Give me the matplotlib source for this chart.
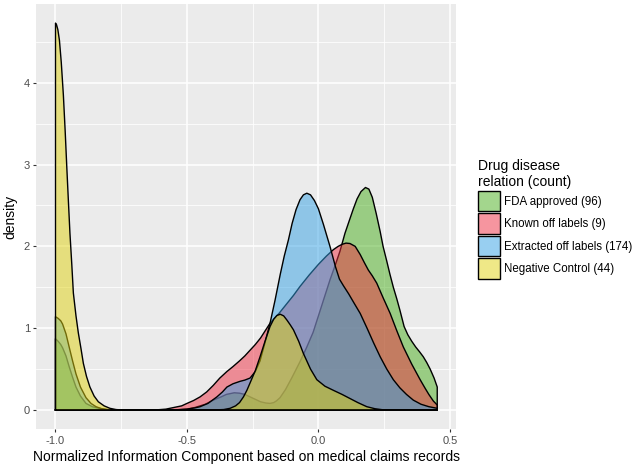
import matplotlib
matplotlib.use("Agg")
import matplotlib.pyplot as plt
from matplotlib.colors import to_rgba
from matplotlib.patches import Patch

plt.rcParams['font.family'] = ['Liberation Sans', 'DejaVu Sans']

# density curves (x, density)
fda_x = [-1.0, -0.99, -0.98, -0.973, -0.96, -0.948, -0.935, -0.922, -0.905, -0.884, -0.86, -0.834,
         -0.80, -0.78, -0.55, -0.50, -0.47, -0.43, -0.40, -0.37, -0.35, -0.32, -0.30, -0.28,
         -0.26, -0.24, -0.22, -0.20, -0.184, -0.17, -0.16, -0.146, -0.125, -0.10, -0.07, -0.044,
         -0.02, 0.0, 0.022, 0.044, 0.065, 0.082, 0.101, 0.118, 0.133, 0.147, 0.162, 0.179,
         0.192, 0.205, 0.22, 0.235, 0.246, 0.26, 0.272, 0.285, 0.298, 0.31, 0.326, 0.34,
         0.355, 0.37, 0.385, 0.399, 0.412, 0.425, 0.44, 0.452]
fda_y = [0.87, 0.84, 0.80, 0.76, 0.66, 0.53, 0.40, 0.28, 0.17, 0.08, 0.04, 0.02,
         0.005, 0.0, 0.0, 0.01, 0.03, 0.07, 0.12, 0.16, 0.19, 0.21, 0.205, 0.19,
         0.16, 0.13, 0.10, 0.085, 0.08, 0.09, 0.11, 0.15, 0.25, 0.40, 0.59, 0.77,
         0.95, 1.15, 1.37, 1.59, 1.78, 1.94, 2.16, 2.32, 2.46, 2.58, 2.67, 2.72,
         2.70, 2.60, 2.40, 2.18, 2.00, 1.82, 1.66, 1.50, 1.36, 1.22, 1.02, 0.92,
         0.84, 0.77, 0.71, 0.65, 0.58, 0.50, 0.39, 0.28]

known_x = [-1.0, -0.62, -0.58, -0.55, -0.52, -0.50, -0.475, -0.45, -0.425, -0.40, -0.375, -0.348,
           -0.325, -0.30, -0.28, -0.26, -0.24, -0.22, -0.20, -0.184, -0.15, -0.12, -0.095, -0.07,
           -0.035, 0.0, 0.03, 0.057, 0.075, 0.09, 0.105, 0.12, 0.14, 0.159, 0.175, 0.19,
           0.205, 0.222, 0.245, 0.273, 0.298, 0.323, 0.355, 0.387, 0.405, 0.42, 0.437, 0.452]
known_y = [0.0, 0.0, 0.01, 0.03, 0.05, 0.08, 0.115, 0.16, 0.22, 0.30, 0.39, 0.47,
           0.53, 0.60, 0.66, 0.73, 0.80, 0.88, 0.98, 1.06, 1.18, 1.30, 1.40, 1.51,
           1.65, 1.78, 1.88, 1.96, 2.00, 2.025, 2.04, 2.035, 2.00, 1.90, 1.80, 1.71,
           1.64, 1.55, 1.38, 1.18, 0.97, 0.77, 0.56, 0.37, 0.27, 0.19, 0.11, 0.06]

extr_x = [-1.0, -0.99, -0.98, -0.973, -0.96, -0.948, -0.935, -0.922, -0.905, -0.884, -0.865, -0.846,
          -0.82, -0.80, -0.55, -0.50, -0.47, -0.45, -0.42, -0.386, -0.365, -0.348, -0.325, -0.298,
          -0.28, -0.26, -0.24, -0.222, -0.205, -0.184, -0.165, -0.145, -0.13, -0.114, -0.10, -0.085,
          -0.07, -0.057, -0.044, -0.03, -0.015, 0.0, 0.019, 0.044, 0.065, 0.08, 0.095, 0.115,
          0.135, 0.159, 0.185, 0.21, 0.235, 0.26, 0.285, 0.31, 0.335, 0.361, 0.39, 0.42, 0.452]
extr_y = [1.14, 1.12, 1.09, 1.05, 0.93, 0.77, 0.60, 0.44, 0.28, 0.15, 0.08, 0.04,
          0.01, 0.0, 0.0, 0.01, 0.025, 0.04, 0.08, 0.16, 0.22, 0.28, 0.32, 0.35,
          0.365, 0.39, 0.47, 0.60, 0.80, 1.06, 1.34, 1.66, 1.88, 2.08, 2.28, 2.45,
          2.57, 2.63, 2.65, 2.63, 2.56, 2.46, 2.27, 2.00, 1.75, 1.60, 1.52, 1.42,
          1.31, 1.18, 1.00, 0.82, 0.65, 0.50, 0.37, 0.27, 0.19, 0.12, 0.07, 0.04, 0.02]

neg_x = [-1.0, -0.996, -0.991, -0.985, -0.978, -0.970, -0.963, -0.957, -0.951, -0.945, -0.938, -0.932,
         -0.922, -0.913, -0.903, -0.894, -0.882, -0.869, -0.853, -0.837, -0.815, -0.793, -0.77, -0.75,
         -0.40, -0.36, -0.336, -0.315, -0.30, -0.285, -0.272, -0.26, -0.24, -0.222, -0.203, -0.184,
         -0.17, -0.158, -0.145, -0.132, -0.12, -0.107, -0.095, -0.075, -0.057, -0.03, -0.006, 0.025,
         0.057, 0.09, 0.12, 0.15, 0.184, 0.215, 0.25, 0.452]
neg_y = [4.73, 4.71, 4.65, 4.52, 4.25, 3.85, 3.40, 2.97, 2.56, 2.16, 1.78, 1.43,
         1.15, 0.94, 0.75, 0.57, 0.41, 0.28, 0.17, 0.10, 0.05, 0.02, 0.005, 0.0,
         0.0, 0.005, 0.02, 0.05, 0.09, 0.16, 0.24, 0.33, 0.48, 0.65, 0.84, 1.02,
         1.11, 1.155, 1.17, 1.15, 1.10, 1.04, 0.98, 0.84, 0.69, 0.50, 0.37, 0.29,
         0.24, 0.19, 0.14, 0.09, 0.04, 0.015, 0.0, 0.0]

labels = ["FDA approved (96)", "Known off labels (9)", "Extracted off labels (174)", "Negative Control (44)"]
colors = ["#49AF1D", "#EE2D41", "#33A1E5", "#E1D311"]
curves = [(fda_x, fda_y), (known_x, known_y), (extr_x, extr_y), (neg_x, neg_y)]

fig = plt.figure(figsize=(6.33, 4.68), dpi=100)
ax = fig.add_axes([0.0575, 0.0827, 0.6634, 0.9092])
ax.set_facecolor("#EBEBEB")
for s in ax.spines.values():
    s.set_visible(False)

# grid
for v in [-0.75, -0.25, 0.25]:
    ax.axvline(v, color="white", lw=0.55, zorder=0)
for v in [-1.0, -0.5, 0.0, 0.5]:
    ax.axvline(v, color="white", lw=1.1, zorder=0)
for v in [0.5, 1.5, 2.5, 3.5, 4.5]:
    ax.axhline(v, color="white", lw=0.55, zorder=0)
for v in [0, 1, 2, 3, 4]:
    ax.axhline(v, color="white", lw=1.1, zorder=0)

for (xs, ys), c in zip(curves, colors):
    px = [xs[0]] + xs + [xs[-1], xs[0]]
    py = [0.0] + ys + [0.0, 0.0]
    ax.fill(px, py, facecolor=to_rgba(c, 0.5), edgecolor="none", zorder=2)
    ax.plot(px, py, color="black", lw=1.0, zorder=2, solid_joinstyle="round")

ax.set_xlim(-1.0726, 0.5246)
ax.set_ylim(-0.2365, 4.966)
ax.set_xticks([-1.0, -0.5, 0.0, 0.5])
ax.set_xticklabels(["-1.0", "-0.5", "0.0", "0.5"])
ax.set_yticks([0, 1, 2, 3, 4])
ax.tick_params(colors="#333333", labelcolor="#4D4D4D", labelsize=8, length=2.5, width=0.8, pad=2)
ax.set_xlabel("Normalized Information Component based on medical claims records", fontsize=10, labelpad=3)
ax.set_ylabel("density", fontsize=10, labelpad=5)

handles = [Patch(facecolor=to_rgba(c, 0.5), edgecolor="black", lw=1.0) for c in colors]
leg = ax.legend(handles, labels, loc="upper left", bbox_to_anchor=(1.04, 0.647), frameon=False,
                fontsize=8.3, title="Drug disease\nrelation (count)", title_fontsize=10,
                handlelength=1.95, handleheight=2.35, labelspacing=0.18, handletextpad=0.3,
                borderaxespad=0, alignment="left")

fig.savefig("out.png", dpi=100)
